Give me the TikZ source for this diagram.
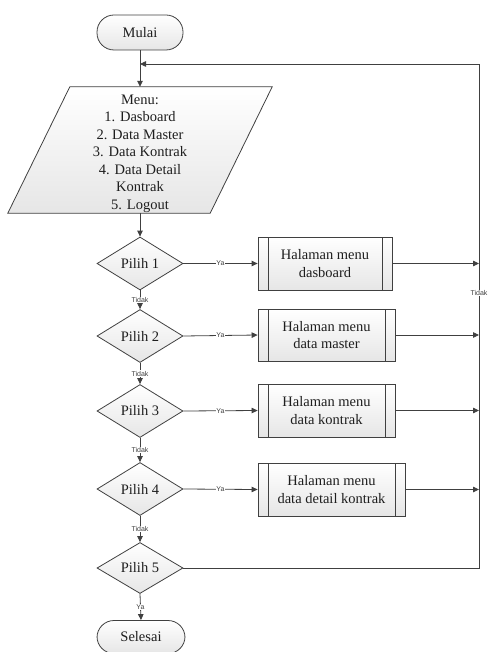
\documentclass[tikz,border=0pt]{standalone}
\usepackage{fontspec}
\setmainfont{Liberation Serif}
\newfontfamily\labelfont{Liberation Sans}
\usetikzlibrary{shapes.geometric,arrows.meta,calc,backgrounds}

\definecolor{linegray}{HTML}{404040}
\definecolor{fillgray}{HTML}{E6E6E6}
\definecolor{textgray}{HTML}{1E1E1E}

\begin{document}
\begin{tikzpicture}[x=1pt,y=-1pt,
  every node/.style={font=\fontsize{14.5}{17.5}\selectfont, text=textgray},
  base/.style={draw=linegray, line width=0.8pt, top color=white, bottom color=fillgray, inner sep=0pt},
  terminal/.style={base, rectangle, rounded corners=17pt, minimum width=86pt, minimum height=35pt},
  decision/.style={base, diamond, aspect=1.6, minimum width=86pt, minimum height=53pt},
  process/.style={base, rectangle, minimum height=53pt, align=center,
    path picture={
      \draw[linegray, line width=0.8pt]
        ([xshift=10pt]path picture bounding box.north west) -- ([xshift=10pt]path picture bounding box.south west)
        ([xshift=-10pt]path picture bounding box.north east) -- ([xshift=-10pt]path picture bounding box.south east);
    }},
  flow/.style={draw=linegray, line width=0.8pt, -{Triangle[length=6pt,width=5.5pt]}},
  tag/.style={font=\labelfont\fontsize{7}{8}\selectfont, fill=white, inner sep=0.6pt, text=linegray},
]
\useasboundingbox (0,0) rectangle (488,652);

% start / end
\node[terminal] (mulai) at (140,32.5) {Mulai};
\node[terminal, minimum width=88pt, minimum height=33pt] (selesai) at (141,637) {Selesai};

% menu (input/output parallelogram); the text block is lowered a little inside it
\node[minimum width=140pt, minimum height=126pt, inner sep=0pt] (menu) at (140,150)
  {\raisebox{-7pt}[0pt][0pt]{\begin{tabular}{@{}c@{}}Menu:\\1. Dasboard\\2. Data Master\\3. Data Kontrak\\4. Data Detail\\Kontrak\\5. Logout\end{tabular}}};
\begin{scope}[on background layer]
  \path[base] (menu.north west) -- ([xshift=62pt]menu.north east)
    -- (menu.south east) -- ([xshift=-62pt]menu.south west) -- cycle;
\end{scope}

% decisions
\node[decision] (p1) at (140,263.5) {Pilih 1};
\node[decision] (p2) at (140,336) {Pilih 2};
\node[decision] (p3) at (140,411) {Pilih 3};
\node[decision] (p4) at (140,489) {Pilih 4};
\node[decision, minimum height=51pt] (p5) at (140,568) {Pilih 5};

% predefined processes
\node[process, minimum width=134pt] (h1) at (325,263.5) {Halaman menu\\dasboard};
\node[process, minimum width=137pt, minimum height=52pt] (h2) at (326.5,335) {Halaman menu\\data master};
\node[process, minimum width=137pt] (h3) at (326.5,410.5) {Halaman menu\\data kontrak};
\node[process, minimum width=147pt] (h4) at (331.5,489.5) {Halaman menu\\data detail kontrak};

% return rail
\coordinate (railtop) at (479,64);
\coordinate (railbot) at (479,568);
\coordinate (loopin) at (140,64);

% main flow
\draw[flow] (mulai.south) -- (menu.north);
\draw[flow] (menu.south) -- (p1.north);
\draw[flow] (p1.south) -- node[tag]{Tidak} (p2.north);
\draw[flow] (p2.south) -- node[tag]{Tidak} (p3.north);
\draw[flow] (p3.south) -- node[tag]{Tidak} (p4.north);
\draw[flow] (p4.south) -- node[tag]{Tidak} (p5.north);
\draw[flow] (p5.south) -- node[tag]{Ya} (selesai.north);

% choices to pages
\draw[flow] (p1.east) -- node[tag]{Ya} (h1.west);
\draw[flow] (p2.east) -- node[tag]{Ya} (h2.west);
\draw[flow] (p3.east) -- node[tag]{Ya} (h3.west);
\draw[flow] (p4.east) -- node[tag]{Ya} (h4.west);

% pages back to the rail
\draw[flow] (h1.east) -- (h1.east -| railtop);
\draw[flow] (h2.east) -- (h2.east -| railtop);
\draw[flow] (h3.east) -- (h3.east -| railtop);
\draw[flow] (h4.east) -- (h4.east -| railtop);

% loop back to the menu
\draw[flow] (p5.east) -- (p5.east -| railbot) -- (railbot)
  -- node[tag, pos=0.546]{Tidak} (railtop) -- (loopin);
\end{tikzpicture}
\end{document}
